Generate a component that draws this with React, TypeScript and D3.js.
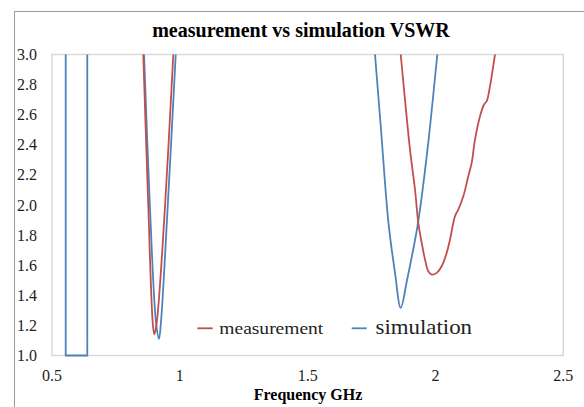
import React from 'react';
import * as d3 from 'd3';

const TITLE = 'measurement vs simulation VSWR';
const X_LABEL = 'Frequency GHz';
const xTicks = [0.5, 1, 1.5, 2, 2.5];
const yTicks = [1.0, 1.2, 1.4, 1.6, 1.8, 2.0, 2.2, 2.4, 2.6, 2.8, 3.0];
const seriesNames = ['measurement', 'simulation'];

// simulation (null = break where the curve leaves the plotted range)
const simFreq = [
  0.5536, 0.5536, 0.5536, 0.638, 0.638, 0.638, NaN,
  0.855, 0.86, 0.883, 0.907, 0.9185, 0.926, 0.9526, 0.984, 0.99, NaN,
  1.754, 1.7635, 1.787, 1.8162, 1.8417, 1.864, 1.8886, 1.9316, 1.9708, 2.0072, 2.0193,
];
const simVswr = [
  3.2, 1.0, 1.0, 1.0, 1.0, 3.2, NaN,
  3.2, 3.0, 1.99, 1.217, 1.111, 1.217, 1.99, 3.0, 3.2, NaN,
  3.2, 3.0, 2.5, 1.88, 1.55, 1.317, 1.5, 1.88, 2.4, 3.0, 3.2,
];

const measFreq = [
  0.853, 0.857, 0.8767, 0.894, 0.9, 0.9095, 0.942, 0.9745, 0.981, NaN,
  1.8526, 1.864, 1.9003, 1.9199, 1.9328, 1.9461, 1.959, 1.9719, 1.9852, 2.0048,
  2.0243, 2.0439, 2.0568, 2.0764, 2.0893, 2.1089, 2.1284, 2.1417, 2.1546, 2.1742,
  2.1898, 2.2004, 2.2133, 2.2328, 2.2512,
];
const measVswr = [
  3.2, 3.0, 1.99, 1.217, 1.14, 1.217, 1.99, 3.0, 3.2, NaN,
  3.2, 3.0, 2.369, 2.103, 1.882, 1.749, 1.638, 1.56, 1.538, 1.549,
  1.593, 1.682, 1.77, 1.926, 1.97, 2.058, 2.191, 2.28, 2.435, 2.59,
  2.668, 2.69, 2.79, 3.0, 3.2,
];

const W = 584;
const H = 407;
const M = { left: 52, right: 563.3, top: 54.5, bottom: 355.5 };
const RED = '#C0504D';
const BLUE = '#4F81BD';
const SERIF = '"Liberation Serif", "Times New Roman", serif';

export default function App() {
  const x = d3.scaleLinear().domain([0.5, 2.5]).range([M.left, M.right]);
  const y = d3.scaleLinear().domain([1.0, 3.0]).range([M.bottom, M.top]);

  const line = d3
    .line<[number, number]>()
    .defined((d) => !Number.isNaN(d[0]) && !Number.isNaN(d[1]))
    .x((d) => x(d[0]))
    .y((d) => y(d[1]))
    .curve(d3.curveCatmullRom.alpha(0.5));

  const sim = simFreq.map((f, i) => [f, simVswr[i]] as [number, number]);
  const meas = measFreq.map((f, i) => [f, measVswr[i]] as [number, number]);

  return (
    <svg width={W} height={H} style={{ position: 'absolute', left: 0, top: 0 }}>
      <rect x={0} y={0} width={W} height={H} fill="#fff" />
      <rect x={14.5} y={11.5} width={620} height={420} fill="none" stroke="#9a9a9a" strokeWidth={1} />
      <defs>
        <clipPath id="plotclip">
          <rect x={M.left} y={M.top} width={M.right - M.left} height={M.bottom - M.top + 2} />
        </clipPath>
      </defs>
      <rect
        x={M.left}
        y={M.top}
        width={M.right - M.left}
        height={M.bottom - M.top}
        fill="none"
        stroke="#d9d9d9"
        strokeWidth={1.5}
      />
      <text
        x={301}
        y={36.5}
        textAnchor="middle"
        fontFamily={SERIF}
        fontWeight="bold"
        fontSize={20}
        fill="#000"
      >
        {TITLE}
      </text>
      {yTicks.map((t) => (
        <text
          key={'y' + t}
          x={37}
          y={y(t) + 5.5}
          textAnchor="end"
          fontFamily={SERIF}
          fontSize={16}
          fill="#222"
        >
          {t.toFixed(1)}
        </text>
      ))}
      {xTicks.map((t) => (
        <text
          key={'x' + t}
          x={x(t)}
          y={381}
          textAnchor="middle"
          fontFamily={SERIF}
          fontSize={16}
          fill="#222"
        >
          {String(t)}
        </text>
      ))}
      <text
        x={308}
        y={399.5}
        textAnchor="middle"
        fontFamily={SERIF}
        fontWeight="bold"
        fontSize={16}
        fill="#000"
      >
        {X_LABEL}
      </text>
      <g clipPath="url(#plotclip)" fill="none" strokeLinejoin="round">
        <path d={line(sim) || ''} stroke={BLUE} strokeWidth={1.8} />
        <path d={line(meas) || ''} stroke={RED} strokeWidth={1.8} />
      </g>
      <g>
        <line x1={197.3} x2={212.7} y1={328.3} y2={328.3} stroke={RED} strokeWidth={1.8} />
        <text
          x={219.3}
          y={334.3}
          fontFamily={SERIF}
          fontSize={17}
          textLength={104}
          lengthAdjust="spacingAndGlyphs"
          fill="#222"
        >
          {seriesNames[0]}
        </text>
        <line x1={351.7} x2={366.7} y1={328.3} y2={328.3} stroke={BLUE} strokeWidth={1.8} />
        <text
          x={375.5}
          y={334.3}
          fontFamily={SERIF}
          fontSize={21}
          textLength={96.5}
          lengthAdjust="spacingAndGlyphs"
          fill="#222"
        >
          {seriesNames[1]}
        </text>
      </g>
    </svg>
  );
}
